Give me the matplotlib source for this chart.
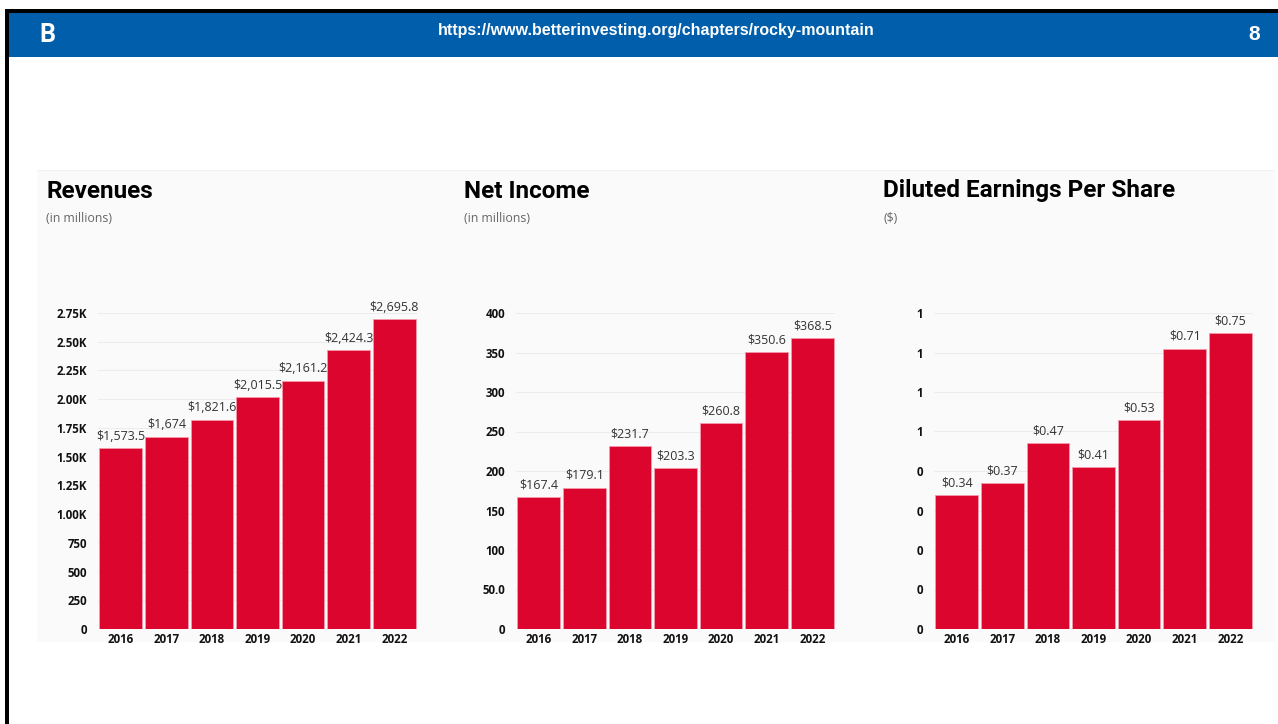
import matplotlib
matplotlib.use("Agg")
import matplotlib.pyplot as plt
from matplotlib.patches import Rectangle
from matplotlib.ticker import FuncFormatter, MultipleLocator

# Data
years = ["2016", "2017", "2018", "2019", "2020", "2021", "2022"]
revenues = [1573.5, 1674, 1821.6, 2015.5, 2161.2, 2424.3, 2695.8]
net_income = [167.4, 179.1, 231.7, 203.3, 260.8, 350.6, 368.5]
eps = [0.34, 0.37, 0.47, 0.41, 0.53, 0.71, 0.75]

revenue_labels = ["$1,573.5", "$1,674", "$1,821.6", "$2,015.5", "$2,161.2", "$2,424.3", "$2,695.8"]
income_labels = ["$167.4", "$179.1", "$231.7", "$203.3", "$260.8", "$350.6", "$368.5"]
eps_labels = ["$0.34", "$0.37", "$0.47", "$0.41", "$0.53", "$0.71", "$0.75"]

titles = ["Revenues", "Net Income", "Diluted Earnings Per Share"]
subtitles = ["(in millions)", "(in millions)", "($)"]

W, H = 1278, 724
BAR = "#dc052d"
BLUE = "#005eab"
title_font = "Roboto"
body_font = "Open Sans"

fig = plt.figure(figsize=(W / 100, H / 100), dpi=100)
fig.patch.set_facecolor("white")


def px_rect(x0, y0, x1, y1, color):
    # rectangle given in pixel coords (origin top-left), drawn behind the axes
    r = Rectangle((x0 / W, 1 - y1 / H), (x1 - x0) / W, (y1 - y0) / H,
                  transform=fig.transFigure, facecolor=color, edgecolor="none", zorder=-10)
    fig.patches.append(r)


# slide frame and header
px_rect(5, 9, W, 13, "black")
px_rect(5, 9, 8.5, H, "black")
px_rect(8.5, 13, W, 57, BLUE)
fig.text(47 / W, 1 - 35 / H, "B", color="white", fontsize=18, fontweight="bold",
         family=title_font, ha="center", va="center")
fig.text(656 / W, 1 - 30 / H, "https://www.betterinvesting.org/chapters/rocky-mountain",
         color="white", fontsize=11.5, fontweight="bold", family="Liberation Sans",
         ha="center", va="center")
fig.text(1254 / W, 1 - 35 / H, "8", color="white", fontsize=15, fontweight="bold",
         family="Liberation Sans", ha="center", va="center")

# light panel behind charts
px_rect(37, 170, 1275, 642, "#fafafa")
px_rect(37, 170, 1275, 171, "#f0f0f0")


def rev_fmt(v, pos):
    return f"{v / 1000:.2f}K" if v >= 1000 else f"{v:.0f}"


def inc_fmt(v, pos):
    return "50.0" if abs(v - 50) < 1e-6 else f"{v:.0f}"


def eps_fmt(v, pos):
    return str(int(v + 0.5 + 1e-9))


panels = [
    (revenues, revenue_labels, 98, 46, 2750, 250, rev_fmt),
    (net_income, income_labels, 516, 464, 400, 50, inc_fmt),
    (eps, eps_labels, 934, 883, 0.8, 0.1, eps_fmt),
]

for i, (vals, labels, left_px, title_px, ymax, step, fmt) in enumerate(panels):
    ax = fig.add_axes([left_px / W, (H - 629) / H, 319 / W, 316 / H])
    ax.set_facecolor("none")
    bars = ax.bar(range(len(years)), vals, width=0.935, color=BAR,
                  edgecolor="#f39aab", linewidth=0.6, zorder=3)
    for b, lab in zip(bars, labels):
        ax.annotate(lab, (b.get_x() + b.get_width() / 2, b.get_height()),
                    xytext=(0, 4), textcoords="offset points", ha="center", va="bottom",
                    fontsize=9, family=body_font, color="#333333", zorder=4,
                    annotation_clip=False)
    ax.set_xlim(-0.5, len(years) - 0.5)
    ax.set_ylim(0, ymax)
    ax.yaxis.set_major_locator(MultipleLocator(step))
    ax.yaxis.set_major_formatter(FuncFormatter(fmt))
    ax.set_xticks(range(len(years)))
    ax.set_xticklabels(years)
    ax.grid(axis="y", color="#ececec", linewidth=0.8, zorder=0)
    for s in ax.spines.values():
        s.set_visible(False)
    ax.tick_params(axis="both", length=0, labelsize=8.3, labelcolor="#111111")
    ax.tick_params(axis="y", pad=8)
    ax.tick_params(axis="x", pad=3)
    for t in ax.get_xticklabels() + ax.get_yticklabels():
        t.set_fontweight("bold")
        t.set_family(body_font)

    fig.text(title_px / W, 1 - 191 / H, titles[i], fontsize=17.5, fontweight="bold",
             family=title_font, color="black", ha="left", va="center")
    fig.text(title_px / W, 1 - 219 / H, subtitles[i], fontsize=8.8,
             family=body_font, color="#666666", ha="left", va="center")

fig.savefig("out.png", dpi=100, facecolor="white")
